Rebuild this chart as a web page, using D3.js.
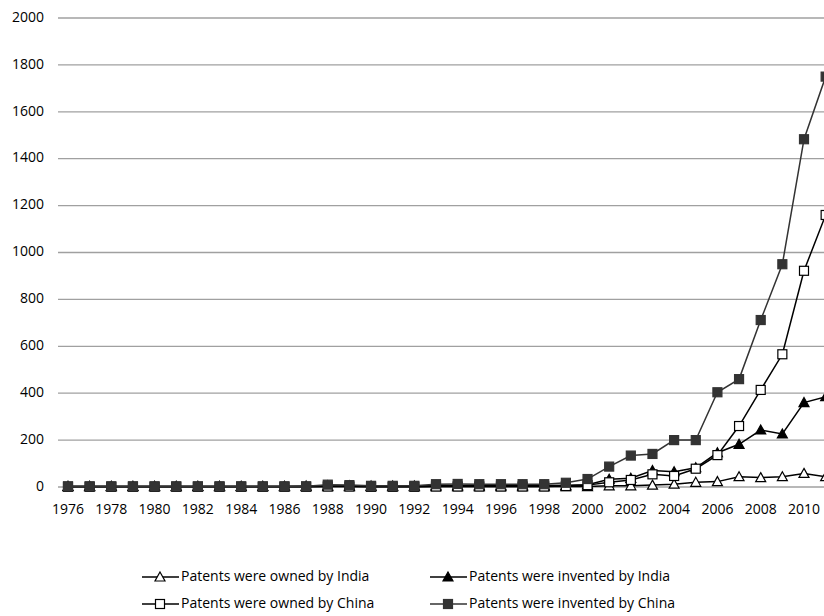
<!DOCTYPE html>
<html><head><meta charset="utf-8">
<script src="https://cdn.jsdelivr.net/npm/d3@7"></script>
<style>body{margin:0;background:#fff}svg{display:block}text{font-family:"Open Sans",sans-serif;fill:#000}</style>
</head><body><svg id="c" width="824" height="616"></svg>
<script>
const years = d3.range(1976, 2012);
const ownedIndia    = [1,1,1,1,1,1,1,1,1,1,1,1,2,2,1,1,1,2,2,2,2,2,2,2,2,5,5,8,12,20,23,44,40,44,58,44];
const inventedIndia = [3,3,3,3,3,3,3,3,3,3,3,4,5,5,4,4,4,6,6,6,6,6,6,7,10,33,37,70,65,82,146,182,243,226,360,385];
const ownedChina    = [1,1,1,1,1,1,1,1,1,1,1,1,2,2,1,1,1,2,2,2,2,2,2,4,8,20,30,54,47,78,136,260,414,566,922,1160];
const inventedChina = [3,3,3,3,3,3,3,3,3,3,3,3,10,8,5,5,5,12,13,12,12,12,12,18,34,87,134,141,200,200,404,460,712,950,1483,1750];
const yTicks = [0,200,400,600,800,1000,1200,1400,1600,1800,2000];
const xTickYears = d3.range(1976, 2012, 2);
const seriesNames = ["Patents were owned by India","Patents were invented by India","Patents were owned by China","Patents were invented by China"];

const series = [
  {name: seriesNames[0], values: ownedIndia, shape: "tri", fill: "#fff", stroke: "#000", line: "#000"},
  {name: seriesNames[1], values: inventedIndia, shape: "tri", fill: "#000", stroke: "#000", line: "#000"},
  {name: seriesNames[2], values: ownedChina, shape: "sq", fill: "#fff", stroke: "#000", line: "#000"},
  {name: seriesNames[3], values: inventedChina, shape: "sq", fill: "#333", stroke: "#333", line: "#333"}
];

const svg = d3.select("#c");
const x = d3.scaleLinear().domain([1976, 2010]).range([68, 804]);
const y = d3.scaleLinear().domain([0, 2000]).range([487, 18]);

svg.append("g").selectAll("line").data(yTicks).join("line")
  .attr("x1", 58).attr("x2", 830)
  .attr("y1", d => y(d)).attr("y2", d => y(d))
  .attr("stroke", "#a0a0a0").attr("stroke-width", 1.3);

svg.append("g").selectAll("text").data(yTicks).join("text")
  .attr("x", 44).attr("y", d => y(d)).attr("text-anchor", "end")
  .attr("dominant-baseline", "middle").attr("font-size", 14).text(d => d);

svg.append("g").selectAll("text").data(xTickYears).join("text")
  .attr("x", d => x(d)).attr("y", 510).attr("text-anchor", "middle")
  .attr("dominant-baseline", "middle").attr("font-size", 14).text(d => d);

function marker(g, shape, fill, stroke) {
  if (shape === "sq") {
    return g.append("rect").attr("x", -4.5).attr("y", -4.5).attr("width", 9).attr("height", 9)
      .attr("fill", fill).attr("stroke", stroke).attr("stroke-width", 1.2);
  } else {
    return g.append("path").attr("d", "M0,-5L5,4L-5,4Z")
      .attr("fill", fill).attr("stroke", stroke).attr("stroke-width", 1.2);
  }
}

const line = d3.line().x((d, i) => x(years[i])).y(d => y(d));
series.forEach(s => {
  const g = svg.append("g");
  g.append("path").attr("d", line(s.values)).attr("fill", "none")
    .attr("stroke", s.line).attr("stroke-width", 1.5);
  s.values.forEach((v, i) => {
    const m = g.append("g").attr("transform", `translate(${x(years[i])},${y(v)})`);
    marker(m, s.shape, s.fill, s.stroke);
  });
});

const legPos = [[142, 577], [430, 577], [142, 604], [430, 604]];
series.forEach((s, i) => {
  const [lx, ly] = legPos[i];
  const g = svg.append("g").attr("transform", `translate(${lx},${ly})`);
  g.append("line").attr("x1", 0).attr("x2", 37).attr("y1", 0).attr("y2", 0)
    .attr("stroke", s.line).attr("stroke-width", 1.5);
  const m = g.append("g").attr("transform", "translate(18,0)");
  marker(m, s.shape, s.fill, s.stroke);
  g.append("text").attr("x", 39).attr("y", 0).attr("dominant-baseline", "middle")
    .attr("font-size", 14).text(s.name);
});
</script></body></html>
